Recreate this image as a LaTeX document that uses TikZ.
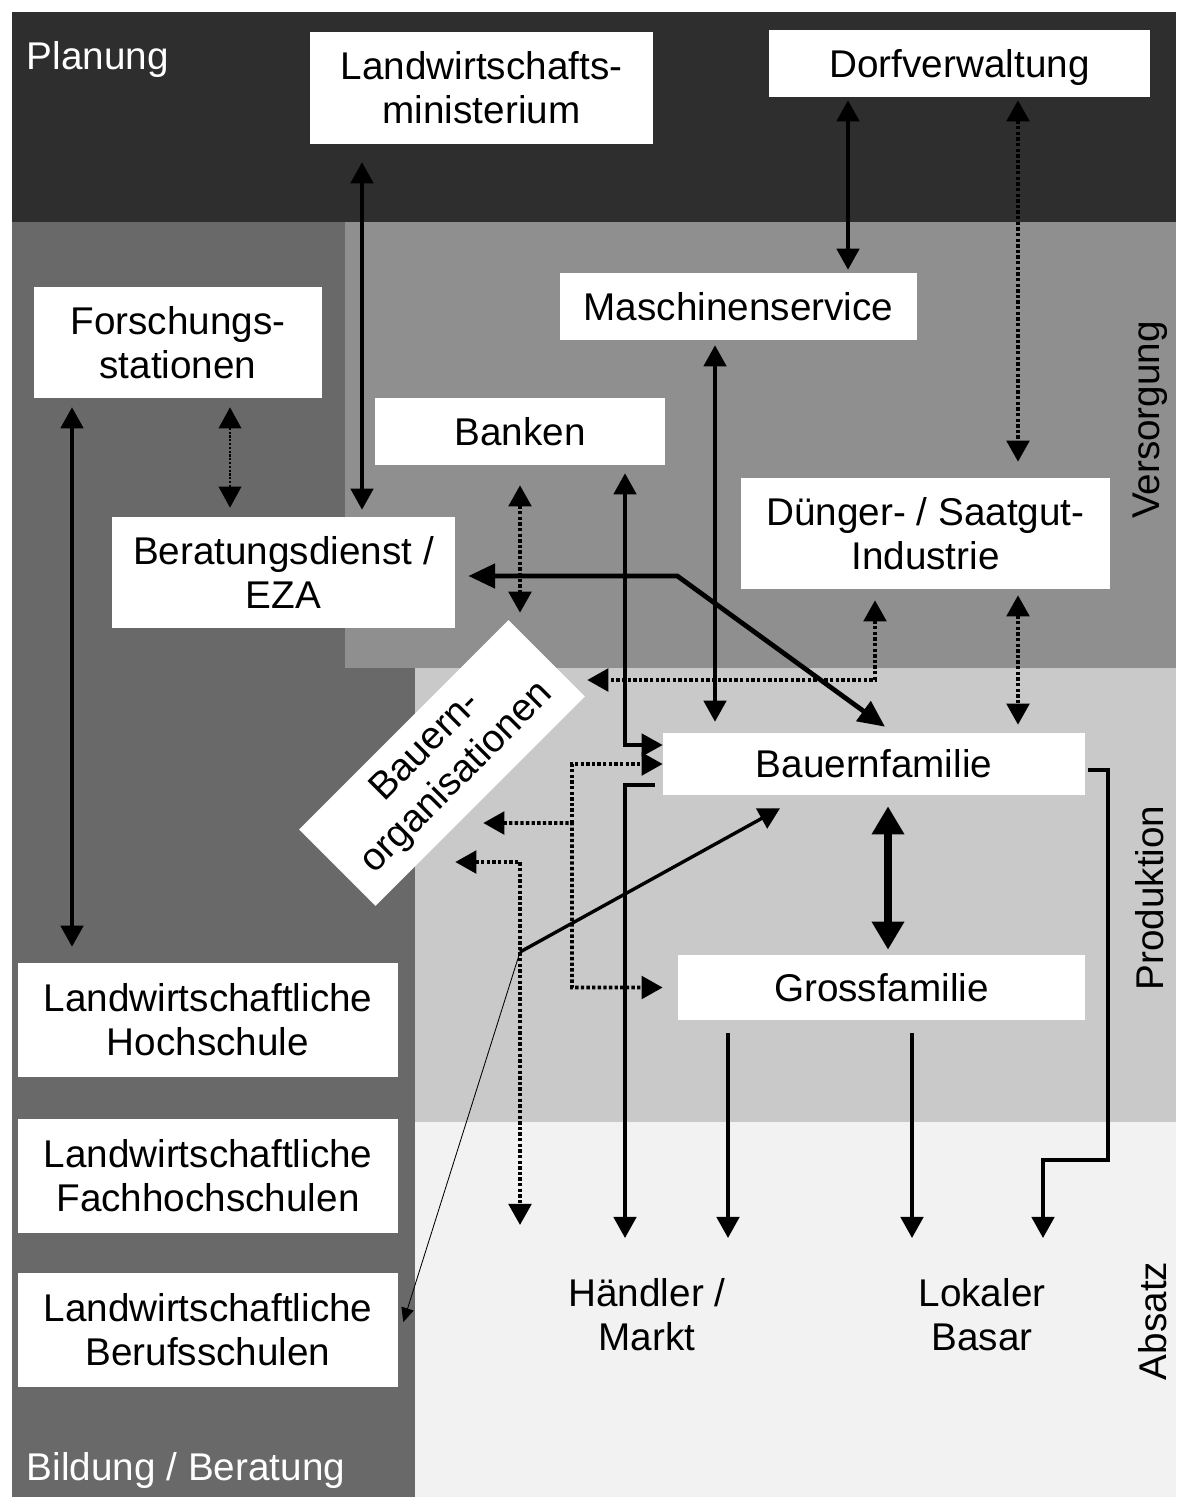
\documentclass[tikz,border=0pt]{standalone}
\usepackage{fontspec}
\setmainfont{Liberation Sans}
\usetikzlibrary{arrows.meta}
\usetikzlibrary{calc}

\definecolor{planung}{gray}{0.18}
\definecolor{bildung}{gray}{0.41}
\definecolor{versorgung}{gray}{0.56}
\definecolor{produktion}{gray}{0.79}
\definecolor{absatz}{gray}{0.95}

\newcommand{\grosstext}{\fontsize{27.5}{31.5}\selectfont}

\tikzset{
  spitze/.tip={Triangle[length=15pt,width=16pt]},
  feld/.style={fill=white, inner sep=0pt, align=center},
  linie/.style={line width=2.4pt},
  dick/.style={line width=3.4pt, >={Triangle[length=19pt,width=17pt]}},
  sehrdick/.style={line width=5pt, >={Triangle[length=20pt,width=22pt]}},
  duenn/.style={line width=0.6pt, >={Triangle[length=10pt,width=9pt]}},
  punkt/.style={line width=2.8pt, dash pattern=on 2.4pt off 1.6pt},
  punktduenn/.style={line width=1.5pt, dash pattern=on 1.5pt off 1.2pt},
  zone/.style={text=white, anchor=base west},
  seite/.style={rotate=90, inner sep=0pt}
}

\begin{document}
\begin{tikzpicture}[x=0.025cm, y=-0.025cm, font=\grosstext, >=spitze]
    \useasboundingbox (0,0) rectangle (1176,1497);
    \fill[white] (0,0) rectangle (1176,1497);

    % Hintergrund: Bereiche
    \fill[planung] (12,12) rectangle (1176,222);
    \fill[versorgung] (345,222) rectangle (1176,668);
    \fill[bildung] (12,222) rectangle (345,668);
    \fill[bildung] (12,668) rectangle (415,1497);
    \fill[produktion] (415,668) rectangle (1176,1122);
    \fill[absatz] (415,1122) rectangle (1176,1497);

    % Bereichsnamen
    \node[zone] (planung) at (22,70) {Planung};
    \node[zone] (bildung) at (22,1480) {Bildung / Beratung};
    \node[seite] (versorgung) at (1150,420) {Versorgung};
    \node[seite] (produktion) at (1150,898) {Produktion};
    \node[seite] (absatzname) at (1153,1321) {Absatz};

    % Planung
    \node[feld, minimum width=8.575cm, minimum height=2.775cm] (ministerium) at (481.5,88) {Landwirtschafts-\\ministerium};
    \node[feld, minimum width=9.525cm, minimum height=1.675cm, text depth=0pt] (dorf) at (959.5,63.5) {Dorfverwaltung};

    % Versorgung
    \node[feld, minimum width=7.2cm, minimum height=2.775cm] (forschung) at (178,342.5) {Forschungs-\\stationen};
    \node[feld, minimum width=8.925cm, minimum height=1.675cm] (maschinen) at (738.5,306.5) {Maschinenservice};
    \node[feld, minimum width=7.25cm, minimum height=1.675cm] (banken) at (520,431.5) {Banken};
    \node[feld, minimum width=8.575cm, minimum height=2.775cm] (beratung) at (283.5,572.5) {Beratungsdienst /\\EZA};
    \node[feld, minimum width=9.225cm, minimum height=2.775cm] (duenger) at (925.5,533.5) {Dünger- / Saatgut-\\Industrie};
    \node[feld, minimum width=7.4cm, minimum height=2.7cm, rotate=45] (bauernorg) at (442,763) {Bauern-\\organisationen};

    % Produktion
    \node[feld, minimum width=10.55cm, minimum height=1.55cm] (bauernfam) at (874,764) {Bauernfamilie};
    \node[feld, minimum width=10.175cm, minimum height=1.625cm] (grossfam) at (881.5,987.5) {Grossfamilie};

    % Bildung
    \foreach \name/\y/\art in {hochschule/1020/Hochschule, fachhs/1176/Fachhochschulen, berufss/1330/Berufsschulen} {
        \node[feld, minimum width=9.5cm, minimum height=2.85cm] (\name) at (208,\y) {Landwirtschaftliche\\\art};
    }

    % Absatz
    \node[align=center] (markt) at (647,1315) {Händler /\\Markt};
    \node[align=center] (basar) at (982,1315) {Lokaler\\Basar};
    \coordinate (verkauf) at (0,1238);
    \coordinate (gabel) at (572,823);
    \coordinate (knoten) at (520,952);

    % Verbindungen von oben
    \draw[linie, <->, shorten <=0.46cm, shorten >=0.175cm] (362,0 |- ministerium.south) -- (362,0 |- beratung.north);
    \draw[linie, <->, shorten <=0.075cm, shorten >=0.075cm] (848,0 |- dorf.south) -- (848,0 |- maschinen.north);
    \draw[punkt, <->, shorten <=0.075cm, shorten >=0.4cm] (1018,0 |- dorf.south) -- (1018,0 |- duenger.north);
    \draw[linie, <->, shorten <=0.225cm, shorten >=0.4cm] (72,0 |- forschung.south) -- (72,0 |- hochschule.north);
    \draw[punktduenn, <->, shorten <=0.225cm, shorten >=0.225cm] (230,0 |- forschung.south) -- (230,0 |- beratung.north);
    \draw[punkt, <->, shorten <=0.5cm, shorten >=0.175cm] (520,0 |- banken.south) -- (520,0 |- bauernorg.north east);

    % Verbindungen zur Bauernfamilie
    \draw[linie, <->, shorten <=0.2cm] (625,0 |- banken.south) |- ($(bauernfam.west)+(0,-19)$);
    \draw[linie, <->, shorten <=0.125cm, shorten >=0.275cm] (715,0 |- maschinen.south) -- (715,0 |- bauernfam.north);
    \draw[dick, <->, shorten <=0.325cm] ($(beratung.east)+(0,3.5)$) -- ++(222,0) -- ($(bauernfam.north)+(11,-6)$);
    \draw[punkt, <->, shorten <=0.275cm] (875,0 |- duenger.south) |- ($(bauernorg.south east)+(2,-16.5)$);
    \draw[punkt, <->, shorten <=0.15cm, shorten >=0.2cm] (1018,0 |- duenger.south) -- (1018,0 |- bauernfam.north);
    \draw[sehrdick, <->, shorten <=0.275cm, shorten >=0.125cm] (888,0 |- bauernfam.south) -- (888,0 |- grossfam.north);

    % Bauernorganisationen
    \draw[punkt, <->, shorten >=0.375cm] ($(bauernorg.south east)+(-102,126.5)$) -- (gabel) |- (grossfam.west);
    \draw[punkt, ->] (gabel) |- (bauernfam.west);
    \draw[punkt, <->, shorten >=0.325cm] ($(bauernorg.south east)+(-130,165.5)$) -| (520,0 |- verkauf);

    % Schulen
    \draw[linie, ->] (knoten) -- ($(bauernfam.south)+(-94,13)$);
    \draw[duenn, ->] (knoten) -- ($(berufss.east)+(5,-8)$);

    % Absatz
    \draw[linie, ->] ($(bauernfam.west)+(-8,21)$) -| (625,0 |- verkauf);
    \draw[linie, ->, shorten <=0.325cm] (728,0 |- grossfam.south) -- (728,0 |- verkauf);
    \draw[linie, ->, shorten <=0.325cm] (912,0 |- grossfam.south) -- (912,0 |- verkauf);
    \draw[linie, ->] ($(bauernfam.east)+(3,6)$) -| (1108,1160) -| (1043,0 |- verkauf);
\end{tikzpicture}
\end{document}
